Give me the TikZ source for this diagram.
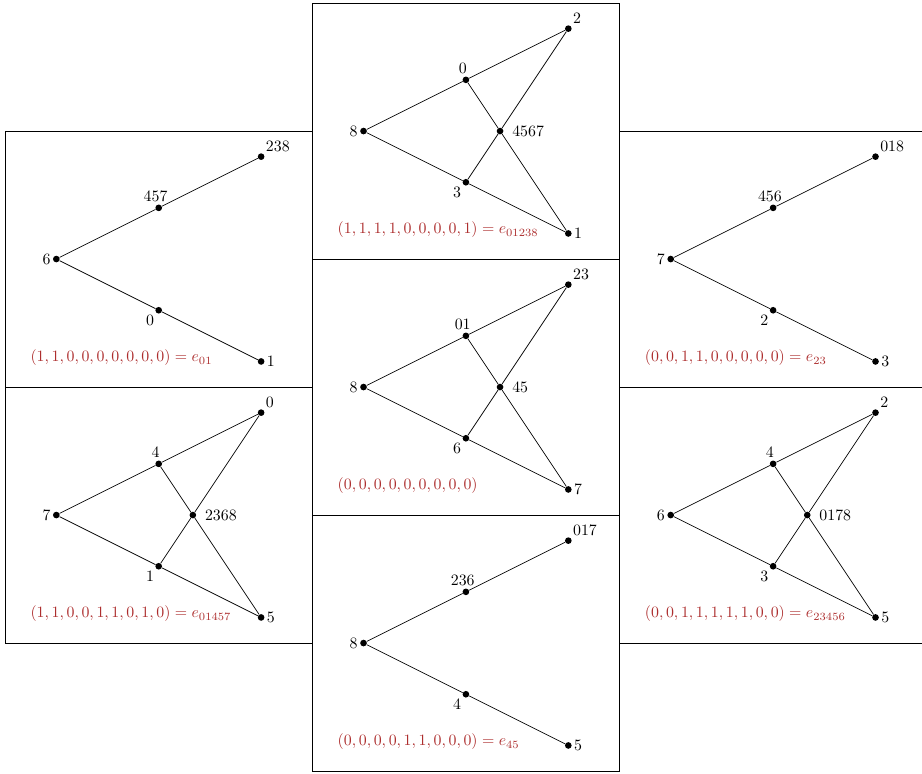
\documentclass[tikz,border=0pt]{standalone}
\usepackage{tikz}
\definecolor{labred}{rgb}{0.68,0.18,0.18}
\tikzset{
  dot/.style={circle,fill=black,inner sep=0pt,minimum size=4.2pt},
  edge/.style={draw=black,line width=0.45pt},
  panelbox/.style={draw=black,line width=0.5pt},
  formula/.style={text=labred,anchor=west,inner sep=0pt},
  every label/.style={inner sep=1.2pt}
}
\newcommand{\treepanel}[7]{%
  \draw[panelbox] (0,0) rectangle (6,5);
  \node[dot,label=left:$#2$] (#1L) at (1,2.5) {};
  \node[dot,label={[xshift=-2pt]above:$#3$}] (#1U) at (3,3.5) {};
  \node[dot,label=above right:$#4$] (#1UU) at (5,4.5) {};
  \node[dot,label=below left:$#5$] (#1D) at (3,1.5) {};
  \node[dot,label=right:$#6$] (#1DD) at (5,0.5) {};
  \draw[edge] (#1L) -- (#1U) -- (#1UU);
  \draw[edge] (#1L) -- (#1D) -- (#1DD);
  \node[formula] (#1F) at (0.49,0.57) {#7};
}
\newcommand{\fullpanel}[8]{%
  \draw[panelbox] (0,0) rectangle (6,5);
  \node[dot,label=left:$#2$] (#1L) at (1,2.5) {};
  \node[dot,label={[xshift=-2pt]above:$#3$}] (#1U) at (3,3.5) {};
  \node[dot,label=above right:$#4$] (#1UU) at (5,4.5) {};
  \node[dot,label=below left:$#5$] (#1D) at (3,1.5) {};
  \node[dot,label=right:$#6$] (#1DD) at (5,0.5) {};
  \node[dot,label={[label distance=4pt]right:$#7$}] (#1C) at (3.6667,2.5) {};
  \draw[edge] (#1L) -- (#1U) -- (#1UU);
  \draw[edge] (#1L) -- (#1D) -- (#1DD);
  \draw[edge] (#1U) -- (#1C) -- (#1DD);
  \draw[edge] (#1D) -- (#1C) -- (#1UU);
  \node[formula] (#1F) at (0.49,0.57) {#8};
}
\begin{document}
\begin{tikzpicture}[x=1.136cm,y=1.136cm]
\useasboundingbox (-0.1,-0.04) rectangle (17.908,15.06);
% center column
\begin{scope}[shift={(6,10)}]
  \fullpanel{a}{8}{0}{2}{3}{1}{4567}{$(1,1,1,1,0,0,0,0,1)=e_{01238}$}
\end{scope}
\begin{scope}[shift={(6,5)}]
  \fullpanel{b}{8}{01}{23}{6}{7}{45}{$(0,0,0,0,0,0,0,0,0)$}
\end{scope}
\begin{scope}[shift={(6,0)}]
  \treepanel{c}{8}{236}{017}{4}{5}{$(0,0,0,0,1,1,0,0,0)=e_{45}$}
\end{scope}
% left column
\begin{scope}[shift={(0,7.5)}]
  \treepanel{d}{6}{457}{238}{0}{1}{$(1,1,0,0,0,0,0,0,0)=e_{01}$}
\end{scope}
\begin{scope}[shift={(0,2.5)}]
  \fullpanel{e}{7}{4}{0}{1}{5}{2368}{$(1,1,0,0,1,1,0,1,0)=e_{01457}$}
\end{scope}
% right column
\begin{scope}[shift={(12,7.5)}]
  \treepanel{f}{7}{456}{018}{2}{3}{$(0,0,1,1,0,0,0,0,0)=e_{23}$}
\end{scope}
\begin{scope}[shift={(12,2.5)}]
  \fullpanel{g}{6}{4}{2}{3}{5}{0178}{$(0,0,1,1,1,1,1,0,0)=e_{23456}$}
\end{scope}
\end{tikzpicture}
\end{document}
